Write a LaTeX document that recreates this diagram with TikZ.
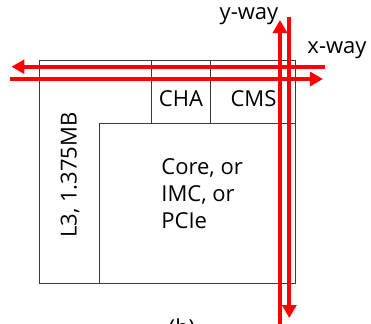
\documentclass[tikz,border=0pt]{standalone}
\usepackage{fontspec}
\setmainfont{Open Sans}
\usetikzlibrary{positioning, calc, arrows.meta}
\definecolor{tileEdge}{HTML}{3A3A3A}
\definecolor{ringRed}{HTML}{FF0000}
\tikzset{
    tileBase/.style={
        rectangle,
        draw=tileEdge,
        line width=0.5pt,
        inner sep=0pt
    },
    % Cells of the tile
    tile/.style={tileBase, minimum width=128pt, minimum height=111.5pt},
    cell/.style={tileBase, minimum height=31.65pt},
    core/.style={tileBase, minimum width=98pt, minimum height=79.85pt},
    % Ring arrows
    ringArrow/.style={-{Triangle[length=6.5pt, width=7pt]}, line width=2.2pt, draw=ringRed},
    ringLabel/.style={font=\fontsize{11}{13}\selectfont, inner sep=0pt}
}

\begin{document}
\begin{tikzpicture}[x=0.5pt, y=-0.5pt, every node/.style={font=\fontsize{11}{13.5}\selectfont}]
    \useasboundingbox (0,0) rectangle (371,323);

    \node[tile] (tile) at (168,171.5) {};
    \node[cell, minimum width=29.65pt] (cha) at (181.35,91.65) {};
    \node[cell, minimum width=42.5pt] (cms) at (253.5,91.65) {};
    \node[core] (core) at (198,203.15) {};

    \node (chaText) at (181,99) {CHA};
    \node (cmsText) at (253.5,99) {CMS};
    \node[rotate=90] (l3Text) at (70,175) {L3, 1.375MB};
    \node[anchor=west, align=left, inner sep=0pt] (coreText) at (161,194) {Core, or\\IMC, or\\PCIe};

    % ring stops
    \coordinate (xwEast) at (325,66.7);
    \coordinate (xwWest) at (11.5,66.7);
    \coordinate (xeWest) at (10,79);
    \coordinate (xeEast) at (323,79);
    \coordinate (ynSouth) at (280,330);
    \coordinate (ynNorth) at (280,20);
    \coordinate (ysNorth) at (289.3,17.3);
    \coordinate (ysSouth) at (289.3,318);

    \draw[ringArrow] (xwEast) -- (xwWest);
    \draw[ringArrow] (xeWest) -- (xeEast);
    \draw[ringArrow] (ynSouth) -- (ynNorth);
    \draw[ringArrow] (ysNorth) -- (ysSouth);

    \node[ringLabel] (yLabel) at (249,16) {y-way};
    \node[ringLabel] (xLabel) at (337,50) {x-way};
    \node[anchor=north, inner sep=0pt] (caption) at (182,318) {(b)};
\end{tikzpicture}
\end{document}
